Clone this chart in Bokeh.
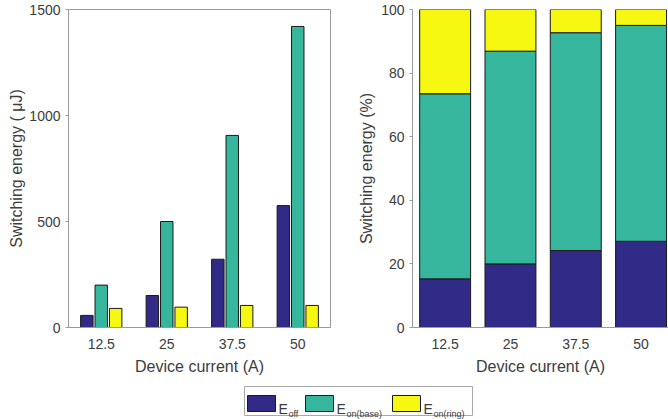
from bokeh.plotting import figure
from bokeh.models import FactorRange, Range1d, FixedTicker, ColumnDataSource
from bokeh.transform import dodge
from bokeh.layouts import column, row
from bokeh.embed import file_html
from bokeh.resources import INLINE
from bokeh.core.properties import value

# ---- data ----
currents = ["12.5", "25", "37.5", "50"]
e_off = [57, 151, 322, 575]
e_on_base = [200, 500, 906, 1420]
e_on_ring = [90, 96, 104, 104]

pct_off = [15.3, 20.0, 24.2, 27.1]
pct_on_base = [58.2, 66.9, 68.5, 67.9]
pct_on_ring = [26.5, 13.1, 7.3, 5.0]

series_names = ["off", "on(base)", "on(ring)"]
colors = ["#312a87", "#36b69c", "#f7f811"]

FONT = "Liberation Sans"
TXT = "#3c3c3c"
AX = "#9a9a9a"


def style(p):
    p.background_fill_color = "white"
    p.border_fill_color = "white"
    p.xgrid.grid_line_color = None
    p.ygrid.grid_line_color = None
    for ax in (p.xaxis[0], p.yaxis[0]):
        ax.axis_line_color = AX
        ax.major_label_text_font = FONT
        ax.major_label_text_font_size = "14px"
        ax.major_label_text_color = TXT
        ax.axis_label_text_font = FONT
        ax.axis_label_text_font_size = "16px"
        ax.axis_label_text_font_style = "normal"
        ax.axis_label_text_color = TXT
        ax.minor_tick_line_color = None
    p.xaxis.major_tick_line_color = None
    p.yaxis.major_tick_line_color = AX
    p.yaxis.major_tick_in = 0
    p.yaxis.major_tick_out = 3


# ---- left: grouped bars ----
src = ColumnDataSource(dict(x=currents, off=e_off, base=e_on_base, ring=e_on_ring))
p1 = figure(x_range=FactorRange(*currents), y_range=Range1d(0, 1500),
            width=340, height=385, output_backend="svg", toolbar_location=None,
            min_border_left=68, min_border_right=10, min_border_top=9,
            min_border_bottom=58)
style(p1)
p1.outline_line_color = AX
p1.yaxis.ticker = FixedTicker(ticks=[0, 500, 1000, 1500])
for key, off, c in zip(["off", "base", "ring"], [-0.22, 0.0, 0.22], colors):
    p1.vbar(x=dodge("x", off, range=p1.x_range), top=key, width=0.19, source=src,
            fill_color=c, line_color="#1a1a1a", line_width=1)
p1.xaxis.axis_label = "Device current (A)"
p1.yaxis.axis_label = "Switching energy ( μJ)"
p1.xaxis.major_label_standoff = 5
p1.xaxis.axis_label_standoff = 6
p1.yaxis.major_label_standoff = 5
p1.yaxis.axis_label_standoff = 1

# ---- right: stacked percentage bars ----
xs = [i + 1 for i in range(len(currents))]
src2 = ColumnDataSource(dict(x=xs, off=pct_off, base=pct_on_base, ring=pct_on_ring))
p2 = figure(x_range=Range1d(0.5, 4.42), y_range=Range1d(0, 100),
            width=328, height=385, output_backend="svg", toolbar_location=None,
            min_border_left=72, min_border_right=0, min_border_top=9,
            min_border_bottom=58)
style(p2)
p2.outline_line_color = None
p2.vbar_stack(["off", "base", "ring"], x="x", width=0.78, source=src2,
              fill_color=colors, line_color="#1a1a1a", line_width=1)
p2.xaxis.ticker = FixedTicker(ticks=xs)
p2.xaxis.major_label_overrides = {x: c for x, c in zip(xs, currents)}
p2.yaxis.ticker = FixedTicker(ticks=[0, 20, 40, 60, 80, 100])
p2.xaxis.axis_label = "Device current (A)"
p2.yaxis.axis_label = "Switching energy (%)"
p2.xaxis.major_label_standoff = 5
p2.xaxis.axis_label_standoff = 6
p2.yaxis.major_label_standoff = 5
p2.yaxis.axis_label_standoff = 3

# ---- legend strip ----
pl = figure(x_range=Range1d(0, 668), y_range=Range1d(34, 0), width=668, height=34,
            output_backend="svg", toolbar_location=None, min_border=0)
pl.axis.visible = False
pl.grid.visible = False
pl.outline_line_color = None
pl.quad(left=[244], right=[472], top=[1], bottom=[30], fill_color="white",
        line_color="#a8a8a8", line_width=1)
sw_left = [247, 305, 392]
pl.quad(left=sw_left, right=[s + 28 for s in sw_left], top=[10] * 3, bottom=[26] * 3,
        fill_color=colors, line_color="#1a1a1a", line_width=1)
pl.text(x=[s + 31 for s in sw_left], y=[23] * 3, text=["E"] * 3,
        text_font=value(FONT), text_font_size="14px", text_color=TXT,
        text_baseline="alphabetic")
pl.text(x=[s + 41 for s in sw_left], y=[28] * 3, text=series_names,
        text_font=value(FONT), text_font_size="9px", text_color=TXT,
        text_baseline="alphabetic")

layout = column(row(p1, p2, spacing=0), pl, spacing=0)
open("out.html", "w").write(file_html(layout, INLINE))
